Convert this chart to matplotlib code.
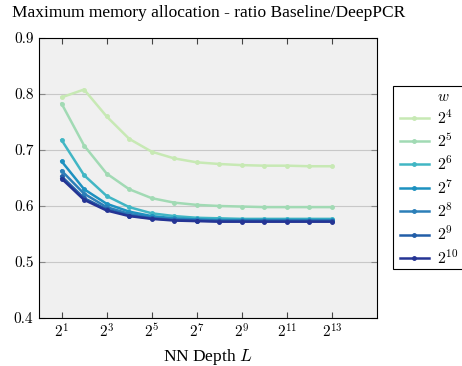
import matplotlib
matplotlib.use("Agg")
import matplotlib.pyplot as plt
from matplotlib.patches import Rectangle
import numpy as np

plt.rcParams['font.family'] = ['cmr10', 'DejaVu Serif']
plt.rcParams['mathtext.fontset'] = 'cm'
plt.rcParams['axes.formatter.use_mathtext'] = True

depth_exp = [1, 2, 3, 4, 5, 6, 7, 8, 9, 10, 11, 12, 13]
widths = ["$2^{4}$", "$2^{5}$", "$2^{6}$", "$2^{7}$", "$2^{8}$", "$2^{9}$", "$2^{10}$"]

w4 = [0.794, 0.808, 0.760, 0.720, 0.697, 0.685, 0.678, 0.675, 0.673, 0.672, 0.672, 0.671, 0.671]
w5 = [0.783, 0.708, 0.658, 0.630, 0.614, 0.606, 0.602, 0.600, 0.599, 0.598, 0.598, 0.598, 0.598]
w6 = [0.718, 0.655, 0.618, 0.598, 0.587, 0.582, 0.579, 0.578, 0.577, 0.577, 0.577, 0.577, 0.577]
w7 = [0.680, 0.630, 0.604, 0.590, 0.582, 0.578, 0.576, 0.575, 0.575, 0.575, 0.575, 0.575, 0.575]
w8 = [0.663, 0.622, 0.598, 0.586, 0.579, 0.576, 0.575, 0.574, 0.574, 0.574, 0.574, 0.574, 0.574]
w9 = [0.653, 0.614, 0.594, 0.583, 0.578, 0.575, 0.574, 0.573, 0.573, 0.573, 0.573, 0.573, 0.573]
w10 = [0.649, 0.611, 0.592, 0.582, 0.577, 0.574, 0.573, 0.572, 0.572, 0.572, 0.572, 0.572, 0.572]
series = [w4, w5, w6, w7, w8, w9, w10]

colors = ["#c7e9b4", "#a1dab4", "#41b6c4", "#1d91c0", "#2c7fb8", "#225ea8", "#253494"]

W, H = 462, 366
fig = plt.figure(figsize=(4.62, 3.66), dpi=100)
ax = fig.add_axes([39/W, 1-318/H, (377-39)/W, (318-38)/H])
ax.set_facecolor("#f0f0f0")

x = [2.0**e for e in depth_exp]
for vals, c, lab in zip(series, colors, widths):
    ax.plot(x, vals, color=c, lw=1.8, marker='o', ms=2.5, label=lab)

ax.set_xscale('log', base=2)
ax.set_xlim(2**0, 2**15)
ax.set_ylim(0.4, 0.9)
ax.set_xticks([2.0**e for e in [1, 3, 5, 7, 9, 11, 13]])
ax.set_xticklabels([f"$2^{{{e}}}$" for e in [1, 3, 5, 7, 9, 11, 13]])
ax.minorticks_off()
ax.set_yticks([0.4, 0.5, 0.6, 0.7, 0.8, 0.9])
ax.set_yticklabels(["0.4", "0.5", "0.6", "0.7", "0.8", "0.9"])
ax.yaxis.grid(True, color="#c8c8c8", lw=0.8)
ax.set_axisbelow(True)
ax.tick_params(axis='x', direction='in', top=True, length=4, labelsize=11, color="#444444")
ax.tick_params(axis='y', direction='in', right=True, length=4, labelsize=11, color="#888888", pad=4)
for s in ax.spines.values():
    s.set_linewidth(0.8)

ax.set_xlabel("NN Depth $L$", fontsize=12.5, family=['Liberation Serif', 'DejaVu Serif'])
fig.text(12/W, 1-13/H, "Maximum memory allocation - ratio Baseline/DeepPCR",
         fontsize=12.5, ha='left', va='center', family=['Liberation Serif', 'DejaVu Serif'])

# legend: frame drawn separately so it runs off the right edge like the reference
fig.patches.append(Rectangle((393/W, 1-269/H), 110/W, 183/H, transform=fig.transFigure,
                             fill=True, fc='white', ec='black', lw=0.8, zorder=1))
fig.text(443/W, 1-97/H, "$w$", fontsize=11, ha='center', va='center', zorder=3)
leg = fig.legend(*ax.get_legend_handles_labels(), loc='upper left',
                 bbox_to_anchor=(400/W, 1-108.5/H), bbox_transform=fig.transFigure,
                 frameon=False, fontsize=11.5, handlelength=1.8, borderaxespad=0,
                 borderpad=0, labelspacing=0.31, handletextpad=0.5)
leg.set_zorder(3)

fig.savefig("out.png", dpi=100)
